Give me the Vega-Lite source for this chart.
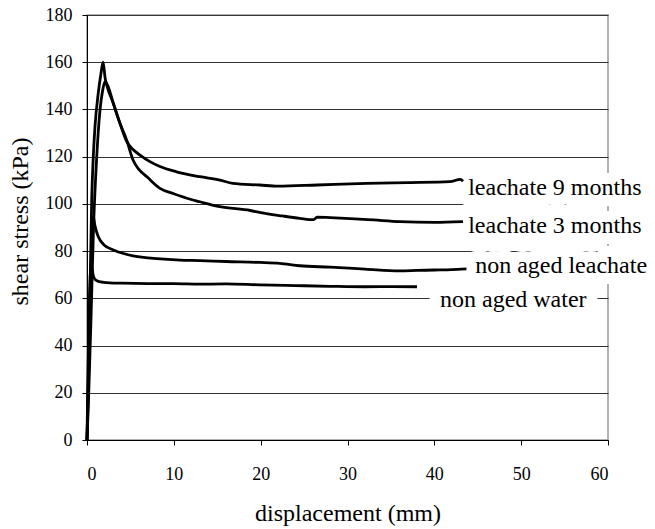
{
  "$schema": "https://vega.github.io/schema/vega-lite/v6.json",
  "width": 521,
  "height": 425,
  "autosize": {"type": "none"},
  "padding": {"left": 87, "top": 15, "right": 47, "bottom": 89},
  "background": "white",
  "config": {
    "font": "Liberation Serif",
    "view": {"stroke": "#999999", "strokeWidth": 1.5},
    "axis": {
      "labelFont": "Liberation Serif",
      "titleFont": "Liberation Serif",
      "labelColor": "#000",
      "titleColor": "#000",
      "titleFontWeight": "normal",
      "domainColor": "#000",
      "tickColor": "#000",
      "tickSize": 5,
      "labelFontSize": 18,
      "titleFontSize": 24
    }
  },
  "datasets": {
    "curves": [
      {"series": "leachate 3 months", "x": 0, "y": 0},
      {"series": "leachate 3 months", "x": 0.15, "y": 20},
      {"series": "leachate 3 months", "x": 0.3, "y": 50},
      {"series": "leachate 3 months", "x": 0.54, "y": 101.6},
      {"series": "leachate 3 months", "x": 0.7, "y": 118},
      {"series": "leachate 3 months", "x": 0.92, "y": 132.7},
      {"series": "leachate 3 months", "x": 1.3, "y": 147},
      {"series": "leachate 3 months", "x": 1.6, "y": 155},
      {"series": "leachate 3 months", "x": 1.85, "y": 160},
      {"series": "leachate 3 months", "x": 2.1, "y": 153},
      {"series": "leachate 3 months", "x": 2.3, "y": 150},
      {"series": "leachate 3 months", "x": 3.03, "y": 142.6},
      {"series": "leachate 3 months", "x": 3.8, "y": 134.1},
      {"series": "leachate 3 months", "x": 4.57, "y": 127},
      {"series": "leachate 3 months", "x": 5.3, "y": 118.6},
      {"series": "leachate 3 months", "x": 6.0, "y": 114.5},
      {"series": "leachate 3 months", "x": 6.9, "y": 111.5},
      {"series": "leachate 3 months", "x": 8.4, "y": 106.6},
      {"series": "leachate 3 months", "x": 10, "y": 104.3},
      {"series": "leachate 3 months", "x": 11.5, "y": 102.4},
      {"series": "leachate 3 months", "x": 13, "y": 100.9},
      {"series": "leachate 3 months", "x": 15.3, "y": 98.8},
      {"series": "leachate 3 months", "x": 18.8, "y": 97.2},
      {"series": "leachate 3 months", "x": 20, "y": 96.3},
      {"series": "leachate 3 months", "x": 22.5, "y": 94.9},
      {"series": "leachate 3 months", "x": 24.5, "y": 93.9},
      {"series": "leachate 3 months", "x": 26.1, "y": 93.3},
      {"series": "leachate 3 months", "x": 26.5, "y": 94.4},
      {"series": "leachate 3 months", "x": 28, "y": 94.2},
      {"series": "leachate 3 months", "x": 30.3, "y": 93.8},
      {"series": "leachate 3 months", "x": 33, "y": 93.2},
      {"series": "leachate 3 months", "x": 36, "y": 92.5},
      {"series": "leachate 3 months", "x": 40, "y": 92.2},
      {"series": "leachate 3 months", "x": 43.3, "y": 92.5},
      {"series": "leachate 9 months", "x": 0, "y": 0},
      {"series": "leachate 9 months", "x": 0.2, "y": 20},
      {"series": "leachate 9 months", "x": 0.45, "y": 50},
      {"series": "leachate 9 months", "x": 0.75, "y": 90},
      {"series": "leachate 9 months", "x": 1.1, "y": 118.6},
      {"series": "leachate 9 months", "x": 1.5, "y": 139.8},
      {"series": "leachate 9 months", "x": 1.8, "y": 148},
      {"series": "leachate 9 months", "x": 2.07, "y": 151.8},
      {"series": "leachate 9 months", "x": 2.4, "y": 150},
      {"series": "leachate 9 months", "x": 3.03, "y": 142.6},
      {"series": "leachate 9 months", "x": 3.8, "y": 134.1},
      {"series": "leachate 9 months", "x": 4.57, "y": 126.5},
      {"series": "leachate 9 months", "x": 5.3, "y": 123},
      {"series": "leachate 9 months", "x": 6.1, "y": 120.7},
      {"series": "leachate 9 months", "x": 7.2, "y": 118},
      {"series": "leachate 9 months", "x": 8.4, "y": 115.8},
      {"series": "leachate 9 months", "x": 10.3, "y": 113.6},
      {"series": "leachate 9 months", "x": 13, "y": 111.5},
      {"series": "leachate 9 months", "x": 15.3, "y": 110.1},
      {"series": "leachate 9 months", "x": 16.8, "y": 108.7},
      {"series": "leachate 9 months", "x": 19.9, "y": 108},
      {"series": "leachate 9 months", "x": 22, "y": 107.5},
      {"series": "leachate 9 months", "x": 26.5, "y": 108},
      {"series": "leachate 9 months", "x": 32.2, "y": 108.7},
      {"series": "leachate 9 months", "x": 37, "y": 109},
      {"series": "leachate 9 months", "x": 41.8, "y": 109.4},
      {"series": "leachate 9 months", "x": 43, "y": 110.4},
      {"series": "leachate 9 months", "x": 43.3, "y": 109.6},
      {"series": "non aged leachate", "x": 0, "y": 0},
      {"series": "non aged leachate", "x": 0.15, "y": 25},
      {"series": "non aged leachate", "x": 0.35, "y": 60},
      {"series": "non aged leachate", "x": 0.55, "y": 85},
      {"series": "non aged leachate", "x": 0.73, "y": 94.6},
      {"series": "non aged leachate", "x": 0.9, "y": 91},
      {"series": "non aged leachate", "x": 1.2, "y": 87},
      {"series": "non aged leachate", "x": 1.5, "y": 84.7},
      {"series": "non aged leachate", "x": 2, "y": 82.5},
      {"series": "non aged leachate", "x": 3.03, "y": 80.5},
      {"series": "non aged leachate", "x": 4.2, "y": 79},
      {"series": "non aged leachate", "x": 5.3, "y": 78},
      {"series": "non aged leachate", "x": 6.5, "y": 77.3},
      {"series": "non aged leachate", "x": 8, "y": 76.8},
      {"series": "non aged leachate", "x": 10.7, "y": 76.2},
      {"series": "non aged leachate", "x": 13, "y": 76},
      {"series": "non aged leachate", "x": 16, "y": 75.6},
      {"series": "non aged leachate", "x": 19.9, "y": 75.2},
      {"series": "non aged leachate", "x": 22.2, "y": 74.8},
      {"series": "non aged leachate", "x": 24.5, "y": 73.8},
      {"series": "non aged leachate", "x": 28, "y": 73.2},
      {"series": "non aged leachate", "x": 32, "y": 72.4},
      {"series": "non aged leachate", "x": 36, "y": 71.6},
      {"series": "non aged leachate", "x": 38, "y": 71.8},
      {"series": "non aged leachate", "x": 40, "y": 72},
      {"series": "non aged leachate", "x": 42, "y": 72.2},
      {"series": "non aged leachate", "x": 43.7, "y": 72.5},
      {"series": "non aged water", "x": 0, "y": 0},
      {"series": "non aged water", "x": 0.1, "y": 25},
      {"series": "non aged water", "x": 0.25, "y": 55},
      {"series": "non aged water", "x": 0.4, "y": 71},
      {"series": "non aged water", "x": 0.55, "y": 73},
      {"series": "non aged water", "x": 0.7, "y": 70},
      {"series": "non aged water", "x": 0.92, "y": 68},
      {"series": "non aged water", "x": 1.3, "y": 67.2},
      {"series": "non aged water", "x": 1.9, "y": 66.8},
      {"series": "non aged water", "x": 4, "y": 66.4},
      {"series": "non aged water", "x": 7, "y": 66.2},
      {"series": "non aged water", "x": 10, "y": 66.2},
      {"series": "non aged water", "x": 13, "y": 66},
      {"series": "non aged water", "x": 16, "y": 66.1},
      {"series": "non aged water", "x": 19.9, "y": 65.7},
      {"series": "non aged water", "x": 24, "y": 65.4},
      {"series": "non aged water", "x": 28, "y": 65.1},
      {"series": "non aged water", "x": 32, "y": 64.9},
      {"series": "non aged water", "x": 35, "y": 65},
      {"series": "non aged water", "x": 38, "y": 64.9}
    ],
    "labels": [
      {"label": "leachate 9 months", "x": 43.9, "y": 103.8},
      {"label": "leachate 3 months", "x": 43.9, "y": 87.5},
      {"label": "non aged leachate", "x": 44.7, "y": 70.6},
      {"label": "non aged water", "x": 40.65, "y": 56.5}
    ]
  },
  "layer": [
    {
      "data": {"name": "labels"},
      "mark": {"type": "text", "align": "left", "baseline": "alphabetic", "fontSize": 24, "font": "Liberation Serif", "fill": "white", "stroke": "white", "strokeWidth": 22, "strokeJoin": "round"},
      "encoding": {
        "x": {
          "field": "x", "type": "quantitative",
          "scale": {"domain": [0, 60], "nice": false},
          "axis": {
            "values": [0, 10, 20, 30, 40, 50, 60],
            "grid": false,
            "labelPadding": 20,
            "title": "displacement (mm)",
            "titleY": 80,
            "titleBaseline": "alphabetic"
          }
        },
        "y": {
          "field": "y", "type": "quantitative",
          "scale": {"domain": [0, 180], "nice": false},
          "axis": {
            "values": [0, 20, 40, 60, 80, 100, 120, 140, 160, 180],
            "grid": true,
            "gridColor": "#333333",
            "gridWidth": 1,
            "labelPadding": 10,
            "title": "shear stress (kPa)",
            "titleX": -60,
            "titleY": 206,
            "titleBaseline": "alphabetic"
          }
        },
        "text": {"field": "label", "type": "nominal"}
      }
    },
    {
      "data": {"name": "curves"},
      "mark": {"type": "line", "color": "#000", "strokeWidth": 2.8, "interpolate": "monotone"},
      "encoding": {
        "x": {"field": "x", "type": "quantitative"},
        "y": {"field": "y", "type": "quantitative"},
        "detail": {"field": "series", "type": "nominal"}
      }
    },
    {
      "data": {"name": "labels"},
      "mark": {"type": "text", "align": "left", "baseline": "alphabetic", "fontSize": 24, "font": "Liberation Serif", "color": "#000"},
      "encoding": {
        "x": {"field": "x", "type": "quantitative"},
        "y": {"field": "y", "type": "quantitative"},
        "text": {"field": "label", "type": "nominal"}
      }
    }
  ]
}
